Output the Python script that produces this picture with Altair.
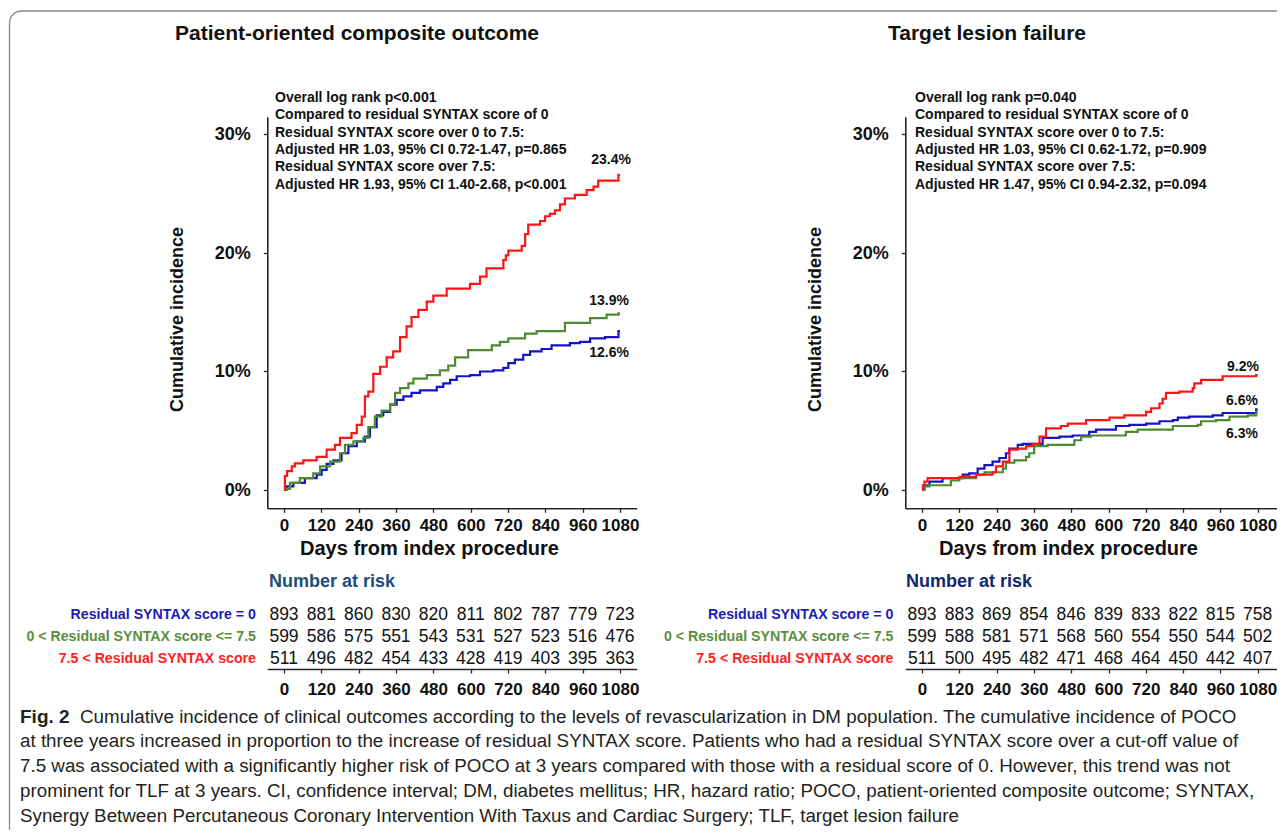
import altair as alt
import pandas as pd

# ---------------------------------------------------------------- layout
W, H = 1269, 822          # plot area (page minus 8px margin)
M = 8                     # page margin
RS = -4                   # small shift of the right-hand panel so its last label fits


def px(v):
    """page pixel -> plot-area pixel"""
    return v - M


SANS = "Liberation Sans, Arial, Helvetica, sans-serif"
AXIS_COLOR = "#262626"

# ---------------------------------------------------------------- data
groups = [
    "Residual SYNTAX score = 0",
    "0 < Residual SYNTAX score <= 7.5",
    "7.5 < Residual SYNTAX score",
]
line_colors = ["#1414c4", "#4e8a33", "#ff1414"]
label_colors = ["#1c1cb4", "#5a8e3c", "#ff2222"]

# Patient-oriented composite outcome (cumulative incidence, %)
poco_days_0 = [0, 8, 30, 67, 105, 121, 137, 159, 185, 207, 234, 260, 276, 298, 319, 341, 362,
               384, 410, 437, 491, 512, 534, 555, 598, 630, 673, 705, 721, 742, 769, 791, 828,
               860, 919, 951, 984, 1032, 1075, 1080]
poco_pct_0 = [0, 0.3, 0.6, 1.0, 1.3, 1.7, 2.2, 2.5, 3.1, 3.7, 4.1, 4.5, 5.3, 6.3, 6.6, 7.2, 7.6,
              7.9, 8.2, 8.4, 8.7, 9.0, 9.3, 9.6, 9.7, 10.0, 10.1, 10.3, 10.7, 11.0, 11.4, 11.7,
              11.9, 12.2, 12.4, 12.5, 12.8, 12.9, 13.4, 13.4]
poco_days_1 = [0, 8, 19, 51, 94, 116, 148, 180, 196, 223, 255, 271, 292, 314, 341, 357, 373, 400,
               416, 459, 501, 528, 550, 592, 668, 694, 721, 775, 812, 903, 984, 1037, 1075, 1080]
poco_pct_1 = [0, 0.1, 0.6, 1.0, 1.4, 2.0, 2.4, 3.1, 3.8, 4.1, 4.4, 5.3, 6.2, 6.7, 7.2, 8.2, 8.6,
              9.0, 9.4, 9.7, 10.1, 10.5, 11.2, 11.8, 12.2, 12.5, 12.8, 13.2, 13.4, 14.1, 14.5,
              14.8, 14.9, 14.9]
poco_days_2 = [0, 3, 10, 25, 35, 62, 105, 137, 164, 180, 217, 234, 250, 260, 271, 287, 309, 330,
               351, 373, 394, 410, 432, 459, 480, 523, 598, 630, 651, 705, 713, 721, 764, 775,
               785, 823, 839, 855, 871, 887, 903, 935, 973, 995, 1010, 1075, 1080]
poco_pct_2 = [0, 1.2, 1.6, 2.0, 2.25, 2.5, 2.8, 3.4, 3.8, 4.4, 4.8, 5.5, 6.2, 7.9, 8.3, 9.8, 10.4,
              11.2, 11.7, 12.9, 13.8, 14.6, 15.2, 15.9, 16.4, 17.0, 17.4, 18.0, 18.7, 19.4, 19.8,
              20.2, 20.6, 21.6, 22.4, 22.7, 23.1, 23.3, 23.6, 24.1, 24.6, 24.9, 25.3, 25.6, 26.1,
              26.6, 26.6]

# Target lesion failure (cumulative incidence, %)
tlf_days_0 = [0, 3, 8, 24, 66, 131, 152, 179, 201, 227, 249, 270, 281, 308, 324, 388, 442, 485,
              538, 560, 624, 667, 721, 764, 807, 823, 860, 935, 967, 1075, 1080]
tlf_pct_0 = [0, 0.1, 0.4, 0.7, 1.0, 1.3, 1.4, 1.8, 2.1, 2.4, 2.7, 3.1, 3.5, 3.8, 3.9, 4.4, 4.5,
             4.6, 4.9, 5.1, 5.4, 5.5, 5.6, 5.8, 5.9, 6.1, 6.2, 6.3, 6.5, 6.8, 6.8]
tlf_days_1 = [0, 8, 24, 93, 120, 174, 201, 260, 270, 297, 335, 345, 361, 404, 490, 512, 544, 656,
              694, 807, 887, 898, 946, 989, 1048, 1075, 1080]
tlf_pct_1 = [0, 0.3, 0.4, 0.8, 1.0, 1.3, 1.5, 1.8, 2.3, 2.5, 2.8, 3.1, 3.7, 3.8, 4.2, 4.5, 4.6,
             4.9, 5.1, 5.4, 5.5, 5.8, 5.9, 6.2, 6.3, 6.6, 6.6]
tlf_days_2 = [0, 3, 8, 18, 120, 174, 227, 238, 260, 281, 308, 335, 356, 378, 399, 447, 469, 528,
              603, 651, 721, 737, 764, 774, 785, 828, 871, 876, 898, 967, 1075, 1080]
tlf_pct_2 = [0, 0.4, 0.7, 1.0, 1.1, 1.3, 1.5, 2.0, 2.4, 3.4, 3.5, 3.7, 3.9, 4.5, 5.2, 5.4, 5.6,
             5.9, 6.1, 6.3, 6.6, 6.9, 7.3, 7.7, 8.2, 8.3, 8.6, 9.0, 9.3, 9.6, 9.7, 9.7]

poco_end_labels = ["12.6%", "13.9%", "23.4%"]
tlf_end_labels = ["6.6%", "6.3%", "9.2%"]

risk_days = [0, 120, 240, 360, 480, 600, 720, 840, 960, 1080]
poco_risk_0 = [893, 881, 860, 830, 820, 811, 802, 787, 779, 723]
poco_risk_1 = [599, 586, 575, 551, 543, 531, 527, 523, 516, 476]
poco_risk_2 = [511, 496, 482, 454, 433, 428, 419, 403, 395, 363]
tlf_risk_0 = [893, 883, 869, 854, 846, 839, 833, 822, 815, 758]
tlf_risk_1 = [599, 588, 581, 571, 568, 560, 554, 550, 544, 502]
tlf_risk_2 = [511, 500, 495, 482, 471, 468, 464, 450, 442, 407]

panel_titles = ["Patient-oriented composite outcome", "Target lesion failure"]
poco_notes = [
    "Overall log rank p<0.001",
    "Compared to residual SYNTAX score of 0",
    "Residual SYNTAX score over 0 to 7.5:",
    "Adjusted HR 1.03, 95% CI 0.72-1.47, p=0.865",
    "Residual SYNTAX score over 7.5:",
    "Adjusted HR 1.93, 95% CI 1.40-2.68, p<0.001",
]
tlf_notes = [
    "Overall log rank p=0.040",
    "Compared to residual SYNTAX score of 0",
    "Residual SYNTAX score over 0 to 7.5:",
    "Adjusted HR 1.03, 95% CI 0.62-1.72, p=0.909",
    "Residual SYNTAX score over 7.5:",
    "Adjusted HR 1.47, 95% CI 0.94-2.32, p=0.094",
]
y_title = "Cumulative incidence"
x_title = "Days from index procedure"
risk_title = "Number at risk"
caption_lead = "Fig. 2"
caption_first = ("Cumulative incidence of clinical outcomes according to the levels of "
                 "revascularization in DM population. The cumulative incidence of POCO")
caption_rest = [
    "at three years increased in proportion to the increase of residual SYNTAX score. "
    "Patients who had a residual SYNTAX score over a cut-off value of",
    "7.5 was associated with a significantly higher risk of POCO at 3 years compared with "
    "those with a residual score of 0. However, this trend was not",
    "prominent for TLF at 3 years. CI, confidence interval; DM, diabetes mellitus; HR, "
    "hazard ratio; POCO, patient-oriented composite outcome; SYNTAX,",
    "Synergy Between Percutaneous Coronary Intervention With Taxus and Cardiac Surgery; "
    "TLF, target lesion failure",
]


# ---------------------------------------------------------------- builders
def km_frame(days_list, pct_list):
    rows = []
    for g, ds, ps in zip(groups, days_list, pct_list):
        for d, p in zip(ds, ps):
            rows.append({"group": g, "day": d, "pct": p})
    return pd.DataFrame(rows)


def risk_frame(risk_lists):
    rows = []
    for i, (g, ns) in enumerate(zip(groups, risk_lists)):
        for d, n in zip(risk_days, ns):
            rows.append({"group": g, "row": i, "day": d, "n": n})
    return pd.DataFrame(rows)


def x_scale(axis_px, zero_px, full_px, end_px):
    per = 1080.0 / (full_px - zero_px)
    d0 = -(zero_px - axis_px) * per
    d1 = 1080 + (end_px - full_px) * per
    return alt.Scale(domain=[d0, d1], range=[px(axis_px), px(end_px)], zero=False, nice=False)


Y_ZERO, Y_30, Y_BOT, Y_TOP = 490.0, 134.5, 508.3, 116.7
_per = (Y_ZERO - Y_30) / 30.0
y_km_scale = alt.Scale(domain=[-(Y_BOT - Y_ZERO) / _per, 30 + (Y_30 - Y_TOP) / _per],
                       range=[px(Y_BOT), px(Y_TOP)], zero=False, nice=False)

common_axis = dict(domainColor=AXIS_COLOR, domainWidth=1.6, tickColor=AXIS_COLOR, tickWidth=1.3,
                   grid=False, labelFont=SANS, labelFontWeight="bold", labelColor="#111111",
                   titleFont=SANS, titleFontWeight="bold", titleColor="#111111",
                   labelOverlap=False, labelFlush=False)


def km_chart(df, axis_px, zero_px, full_px, end_px, xtitle_center_px, ytitle_center_px):
    xs = x_scale(axis_px, zero_px, full_px, end_px)
    return alt.Chart(df).mark_line(interpolate="step-after", strokeWidth=2.2).encode(
        x=alt.X("day:Q", scale=xs, axis=alt.Axis(
            orient="bottom", offset=px(Y_BOT) - H, values=risk_days, format="d", tickSize=4,
            labelFontSize=17, labelPadding=5, title=x_title, titleFontSize=20,
            titleX=px(xtitle_center_px), titleY=548 - Y_BOT, titleBaseline="middle",
            titleAlign="center", **common_axis)),
        y=alt.Y("pct:Q", scale=y_km_scale, axis=alt.Axis(
            orient="left", offset=-px(axis_px), values=[0, 10, 20, 30],
            labelExpr="datum.value + '%'", tickSize=4, labelFontSize=18, labelPadding=13,
            title=y_title, titleFontSize=18, titleX=ytitle_center_px - axis_px,
            titleY=px(319), titleBaseline="middle", titleAlign="center", titleAngle=270,
            **common_axis)),
        color=alt.Color("group:N", scale=alt.Scale(domain=groups, range=line_colors), legend=None),
        order=alt.Order("day:Q"),
    )


RISK_TOP, RISK_BOT = 597.0, 669.0
y_risk_scale = alt.Scale(domain=[-0.82, 2.45], range=[px(RISK_TOP), px(RISK_BOT)],
                         zero=False, nice=False)


def risk_chart(df, axis_px, zero_px, full_px, end_px, label_right_px):
    xs = x_scale(axis_px, zero_px, full_px, end_px)
    nums = alt.Chart(df).mark_text(font=SANS, fontSize=17.5, color="#111111",
                                   baseline="middle", align="center").encode(
        x=alt.X("day:Q", scale=xs, axis=alt.Axis(
            orient="bottom", offset=px(RISK_BOT) - H, values=risk_days, format="d", tickSize=4,
            labelFontSize=17, labelPadding=8, title=None, **common_axis)),
        y=alt.Y("row:Q", scale=y_risk_scale, axis=alt.Axis(
            orient="left", offset=-px(axis_px), values=[0, 1, 2], tickSize=4, labels=False,
            title=None, **common_axis)),
        text=alt.Text("n:Q", format="d"),
    )
    labs = alt.Chart(df[df["day"] == 0]).mark_text(
        font=SANS, fontSize=14.2, fontWeight="bold", align="right", baseline="middle").encode(
        x=alt.value(px(label_right_px)),
        y=alt.Y("row:Q", scale=y_risk_scale, axis=None),
        text="group:N",
        color=alt.Color("group:N", scale=alt.Scale(domain=groups, range=label_colors),
                        legend=None),
    )
    return alt.layer(nums, labs)


one = pd.DataFrame({"k": [0]})


def txt(text, x, y, size, weight="bold", align="left", baseline="middle", color="#111111",
        font=SANS, line_height=None):
    kw = dict(font=font, fontSize=size, fontWeight=weight, align=align, baseline=baseline,
              color=color)
    if line_height is not None:
        kw["lineHeight"] = line_height
    return alt.Chart(one).mark_text(**kw).encode(
        x=alt.value(px(x)), y=alt.value(px(y)), text=alt.value(text))


# ---------------------------------------------------------------- assemble
border = alt.Chart(one).mark_rect(filled=False, stroke="#8a8a8a", strokeWidth=1.3,
                                  cornerRadius=12).encode(
    x=alt.value(px(9.5)), y=alt.value(px(11)), x2=alt.value(W + 60), y2=alt.value(H + 60))

left_km = km_chart(km_frame([poco_days_0, poco_days_1, poco_days_2],
                            [poco_pct_0, poco_pct_1, poco_pct_2]),
                   267.3, 284.0, 620.0, 636.7, 429.0, 178.0)
right_km = km_chart(km_frame([tlf_days_0, tlf_days_1, tlf_days_2],
                             [tlf_pct_0, tlf_pct_1, tlf_pct_2]),
                    909.3 + RS, 926.0 + RS, 1261.7 + RS, 1276.5, 1072.0 + RS, 819.0 + RS)
left_risk = risk_chart(risk_frame([poco_risk_0, poco_risk_1, poco_risk_2]),
                       267.3, 284.0, 620.0, 636.7, 256.0)
right_risk = risk_chart(risk_frame([tlf_risk_0, tlf_risk_1, tlf_risk_2]),
                        909.3 + RS, 926.0 + RS, 1261.7 + RS, 1276.5, 897.5 + RS)

CAP = 18.8
texts = [
    txt(panel_titles[0], 357, 34, 21, align="center"),
    txt(panel_titles[1], 991 + RS, 34, 21, align="center"),
    txt(poco_notes, 275, 91, 14, baseline="top", line_height=17.3),
    txt(tlf_notes, 919 + RS, 91, 14, baseline="top", line_height=17.3),
    txt(poco_end_labels[2], 631, 160, 14, align="right"),
    txt(poco_end_labels[1], 629, 300.5, 14, align="right"),
    txt(poco_end_labels[0], 629, 353, 14, align="right"),
    txt(tlf_end_labels[2], 1263 + RS, 367, 14, align="right"),
    txt(tlf_end_labels[0], 1262 + RS, 401, 14, align="right"),
    txt(tlf_end_labels[1], 1262 + RS, 434, 14, align="right"),
    txt(risk_title, 269, 582, 18, color="#1f4e79"),
    txt(risk_title, 910 + RS, 582, 18, color="#12296b"),
    txt(caption_lead, 20, 717, 19, color="#231f20"),
    txt(caption_first, 80, 717, CAP, weight="normal", color="#231f20"),
    txt(caption_rest, 20, 742 - 10.5, CAP, weight="normal", color="#231f20", baseline="top",
        line_height=25),
]

chart = alt.layer(border, left_km, right_km, left_risk, right_risk, *texts).resolve_scale(
    x="independent", y="independent", color="independent"
).properties(
    width=W, height=H, autosize=alt.AutoSizeParams(type="none"), padding=0,
    background="white"
).configure_view(stroke=None)

chart.save("out.html", embed_options={"renderer": "svg", "actions": False})
